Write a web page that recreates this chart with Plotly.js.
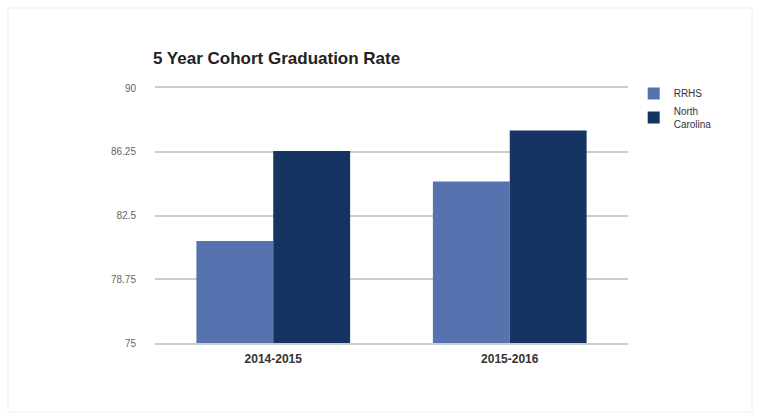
<!DOCTYPE html>
<html>
<head>
<meta charset="utf-8">
<script src="https://cdn.plot.ly/plotly-3.0.1.min.js"></script>
<style>html,body{margin:0;padding:0;background:#fff;}#chart{width:759px;height:419px;}</style>
</head>
<body>
<div id="chart"></div>
<script>
const categories = ["2014-2015", "2015-2016"];
const seriesNames = ["RRHS", "North<br>Carolina"];
const rrhsValues = [81.0, 84.5];
const ncValues = [86.3, 87.5];
const yTickValues = [75, 78.75, 82.5, 86.25, 90];
const yTickLabels = ["75", "78.75", "82.5", "86.25", "90"];

const traces = [
  {type: "bar", name: seriesNames[0], x: categories, y: rrhsValues,
   marker: {color: "#5673b0", line: {width: 0}}},
  {type: "bar", name: seriesNames[1], x: categories, y: ncValues,
   marker: {color: "#163462", line: {width: 0}}}
];

const layout = {
  width: 759, height: 419,
  margin: {l: 155, r: 131, t: 88, b: 76},
  paper_bgcolor: "#fff", plot_bgcolor: "#fff",
  font: {family: "Liberation Sans, Arial, sans-serif"},
  title: {text: "<b>5 Year Cohort Graduation Rate</b>", x: 153/759, xanchor: "left", y: 1 - 58/419, yanchor: "middle",
          font: {size: 17, color: "#222"}},
  barmode: "group", bargap: 0.35, bargroupgap: 0,
  xaxis: {showgrid: false, showline: true, mirror: true, linecolor: "#cccccc", linewidth: 2,
          zeroline: false, ticks: "",
          tickfont: {size: 12, color: "#333", weight: "bold"}, ticklabelstandoff: 4},
  yaxis: {range: [75, 90], tickvals: yTickValues, ticktext: yTickLabels,
          showgrid: true, gridcolor: "#cccccc", gridwidth: 2, zeroline: false, showline: false,
          ticks: "", tickfont: {size: 10, color: "#666"}, ticklabelstandoff: 18},
  legend: {x: 1.012, xanchor: "left", y: 1.035, yanchor: "top", font: {size: 10, color: "#333"},
           bgcolor: "rgba(0,0,0,0)", tracegroupgap: 2, itemwidth: 30},
  shapes: [
    {type: "rect", xref: "paper", yref: "paper", x0: (8-155)/473, x1: (752-155)/473,
     y0: -(412-343)/255, y1: 1 + (88-8)/255, line: {color: "#eeeeee", width: 1}, fillcolor: "rgba(0,0,0,0)", layer: "below"}
  ]
};

Plotly.newPlot("chart", traces, layout, {displayModeBar: false, staticPlot: true});
</script>
</body>
</html>
